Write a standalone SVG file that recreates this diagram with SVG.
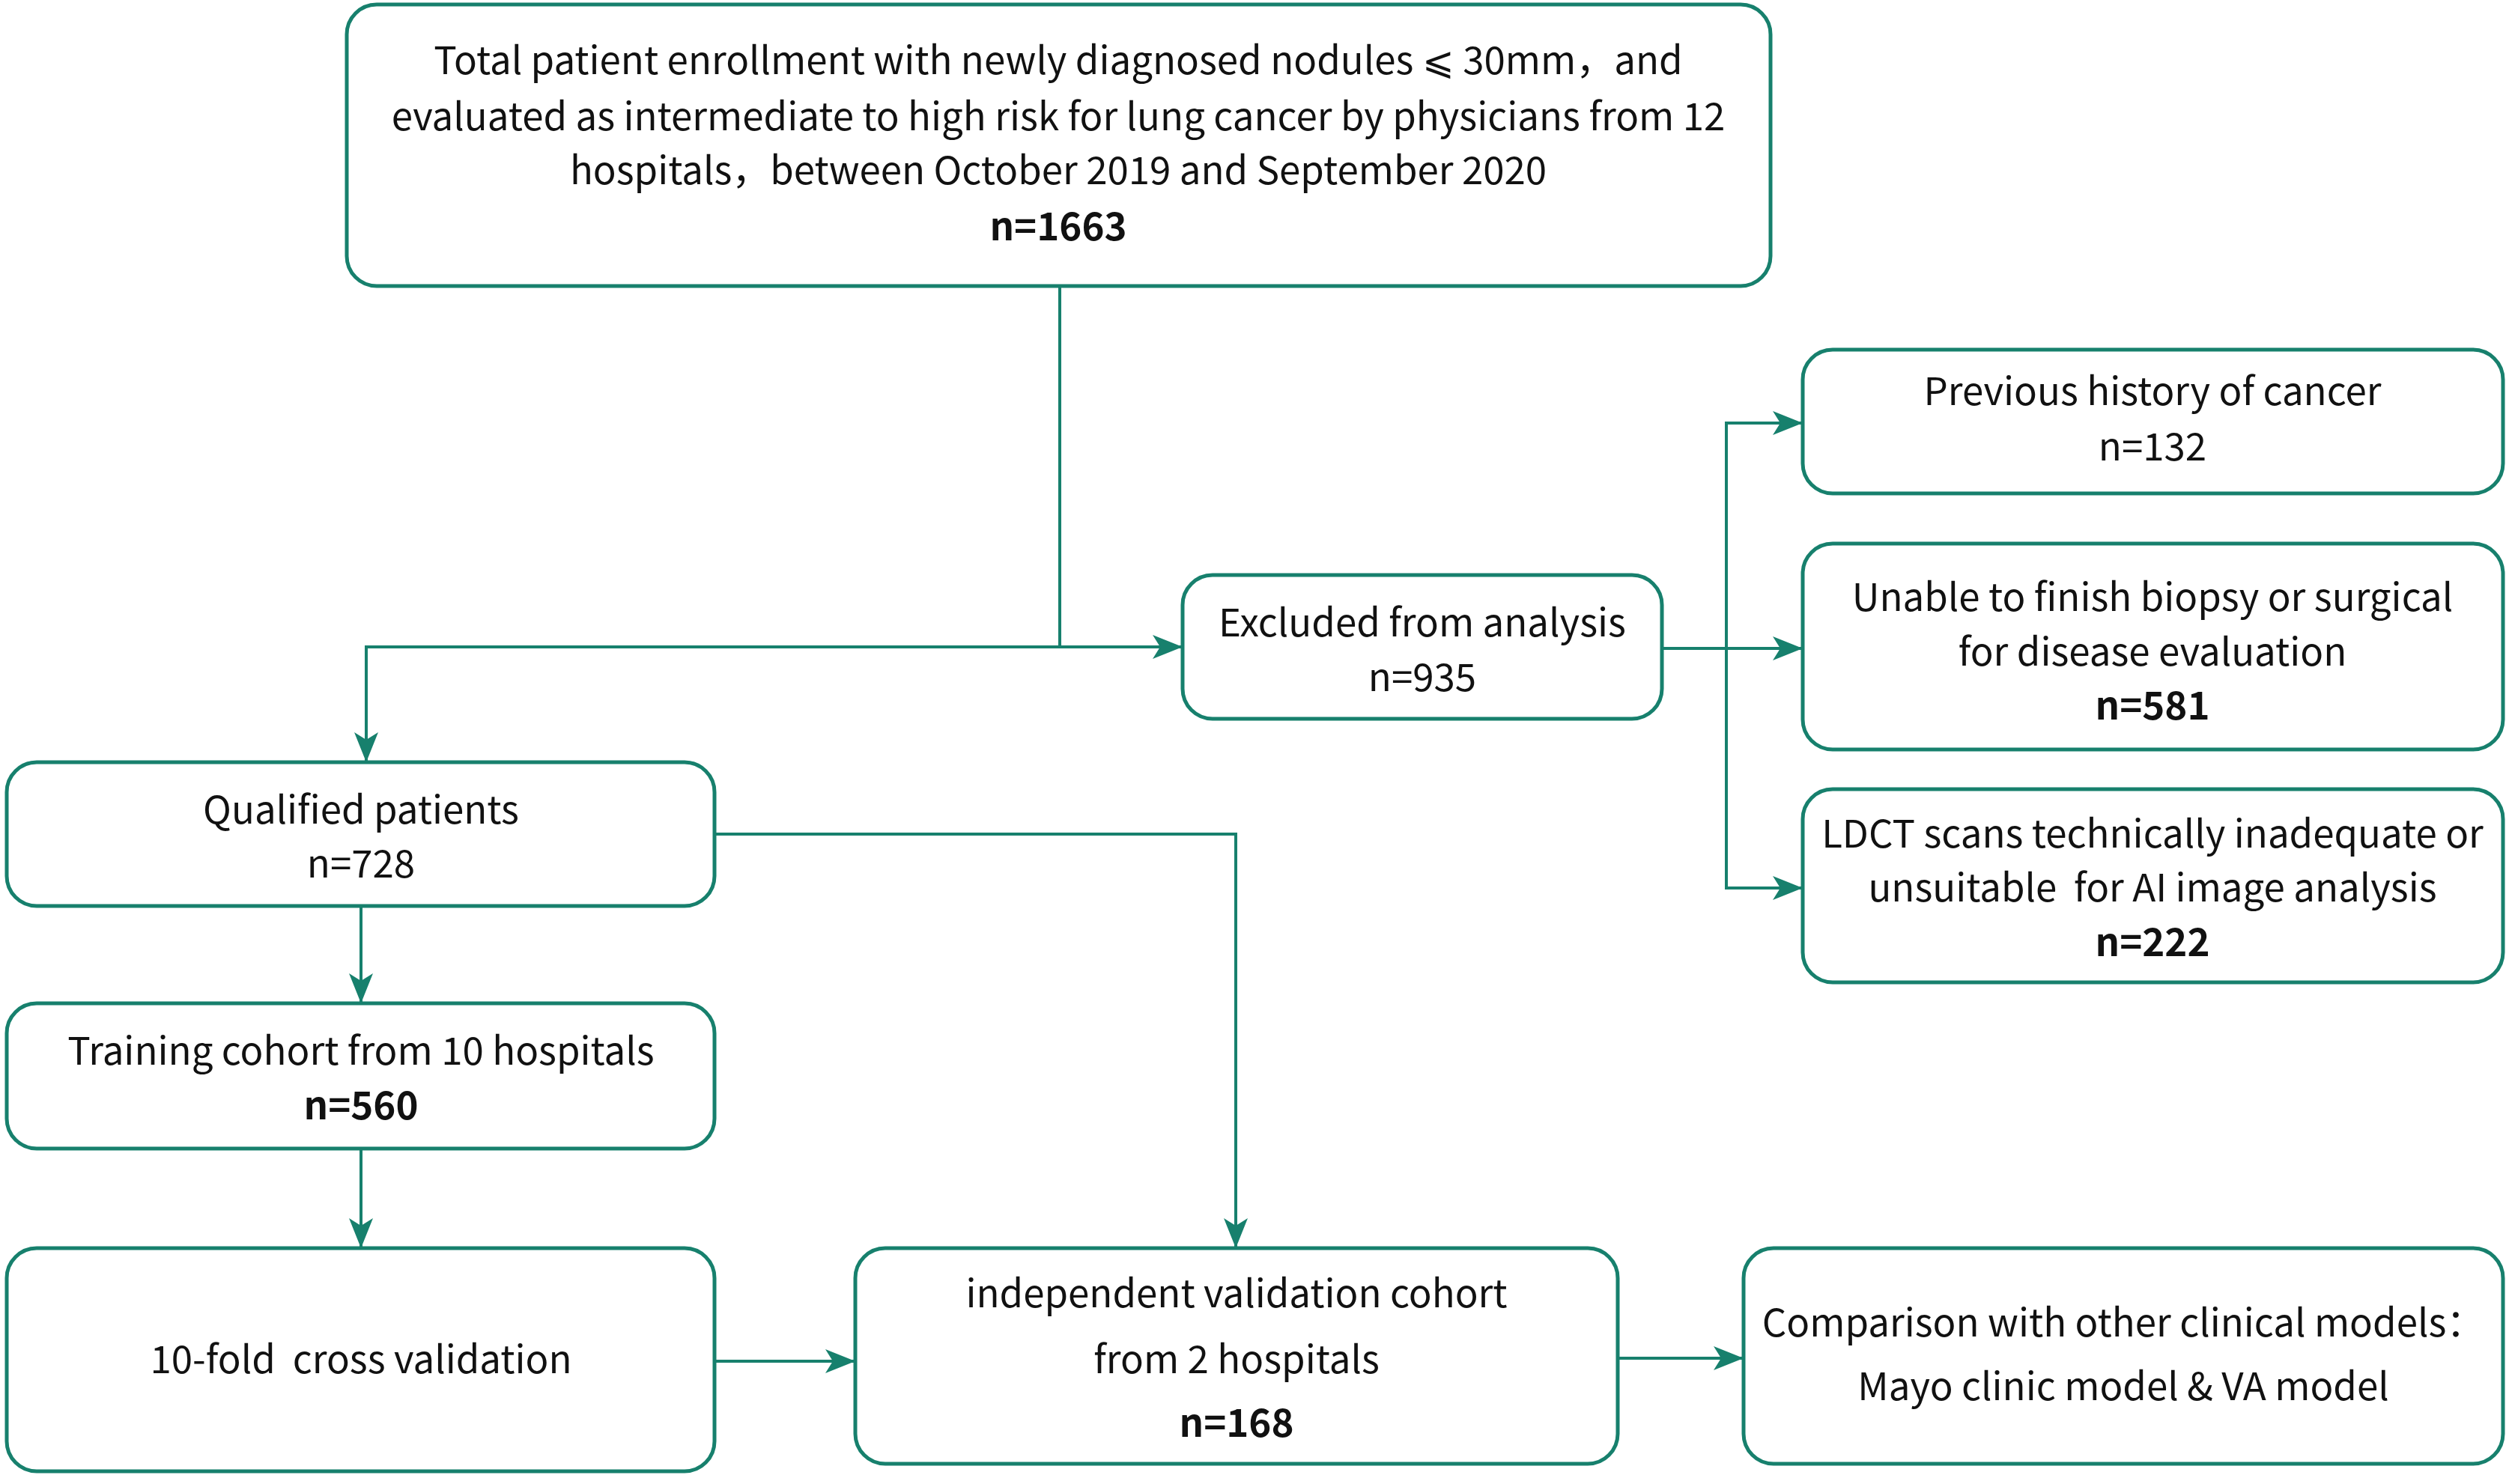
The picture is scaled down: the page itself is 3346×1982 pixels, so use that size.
<svg xmlns="http://www.w3.org/2000/svg" width="3346" height="1982" viewBox="0 0 3346 1982">
<style>
.box{fill:#fff;stroke:#17806d;stroke-width:5}
.t{font-family:"Noto Sans CJK SC","Noto Sans",sans-serif;font-size:51px;fill:#111;text-anchor:middle}
.b{font-weight:bold}
.c{fill:none;stroke:#17806d;stroke-width:4}
</style>
<defs>
<marker id="ah" markerUnits="userSpaceOnUse" markerWidth="40" markerHeight="32" viewBox="0 0 40 32" refX="38" refY="16" orient="auto">
<path d="M0,0 L40,16 L0,32 L10,16 z" fill="#17806d"/>
</marker>
</defs>
<rect width="3346" height="1982" fill="#fff"/>
<g id="connectors">
<path class="c" d="M1415,382 V864"/>
<path class="c" d="M1415,864 H1577" marker-end="url(#ah)"/>
<path class="c" d="M1415,864 H489 V1016" marker-end="url(#ah)"/>
<path class="c" d="M2219,866 H2405" marker-end="url(#ah)"/>
<path class="c" d="M2305,866 V565 H2405" marker-end="url(#ah)"/>
<path class="c" d="M2305,866 V1186 H2405" marker-end="url(#ah)"/>
<path class="c" d="M954,1114 H1650 V1665" marker-end="url(#ah)"/>
<path class="c" d="M482,1210 V1338" marker-end="url(#ah)"/>
<path class="c" d="M482,1534 V1665" marker-end="url(#ah)"/>
<path class="c" d="M954,1818 H1140" marker-end="url(#ah)"/>
<path class="c" d="M2160,1814 H2326" marker-end="url(#ah)"/>
</g>
<g id="total">
<rect class="box" x="463" y="6" width="1901" height="376" rx="40"/>
<text class="t" x="1413" y="99">Total patient enrollment with newly diagnosed nodules ⩽ 30mm，and</text>
<text class="t" x="1413" y="174">evaluated as intermediate to high risk for lung cancer by physicians from 12</text>
<text class="t" x="1413" y="246">hospitals，between October 2019 and September 2020</text>
<text class="t b" x="1413" y="321">n=1663</text>
</g>
<g id="excluded">
<rect class="box" x="1579" y="768" width="640" height="192" rx="40"/>
<text class="t" x="1899" y="850">Excluded from analysis</text>
<text class="t" x="1899" y="923">n=935</text>
</g>
<g id="history">
<rect class="box" x="2407" y="467" width="935" height="192" rx="40"/>
<text class="t" x="2874" y="541">Previous history of cancer</text>
<text class="t" x="2874" y="615">n=132</text>
</g>
<g id="biopsy">
<rect class="box" x="2407" y="726" width="935" height="275" rx="40"/>
<text class="t" x="2874" y="816">Unable to finish biopsy or surgical</text>
<text class="t" x="2874" y="889">for disease evaluation</text>
<text class="t b" x="2874" y="961">n=581</text>
</g>
<g id="ldct">
<rect class="box" x="2407" y="1054" width="935" height="258" rx="40"/>
<text class="t" x="2874" y="1132">LDCT scans technically inadequate or</text>
<text class="t" x="2874" y="1204">unsuitable&#160; for AI image analysis</text>
<text class="t b" x="2874" y="1277">n=222</text>
</g>
<g id="qualified">
<rect class="box" x="9" y="1018" width="945" height="192" rx="40"/>
<text class="t" x="482" y="1100">Qualified patients</text>
<text class="t" x="482" y="1172">n=728</text>
</g>
<g id="training">
<rect class="box" x="9" y="1340" width="945" height="194" rx="40"/>
<text class="t" x="482" y="1422">Training cohort from 10 hospitals</text>
<text class="t b" x="482" y="1495">n=560</text>
</g>
<g id="crossval">
<rect class="box" x="9" y="1667" width="945" height="298" rx="40"/>
<text class="t" x="482" y="1834">10-fold&#160; cross validation</text>
</g>
<g id="independent">
<rect class="box" x="1142" y="1667" width="1018" height="288" rx="40"/>
<text class="t" x="1651" y="1746">independent validation cohort</text>
<text class="t" x="1651" y="1834">from 2 hospitals</text>
<text class="t b" x="1651" y="1919">n=168</text>
</g>
<g id="comparison">
<rect class="box" x="2328" y="1667" width="1014" height="288" rx="40"/>
<text class="t" x="2835" y="1785">Comparison with other clinical models：</text>
<text class="t" x="2835" y="1870">Mayo clinic model &amp; VA model</text>
</g>
</svg>
